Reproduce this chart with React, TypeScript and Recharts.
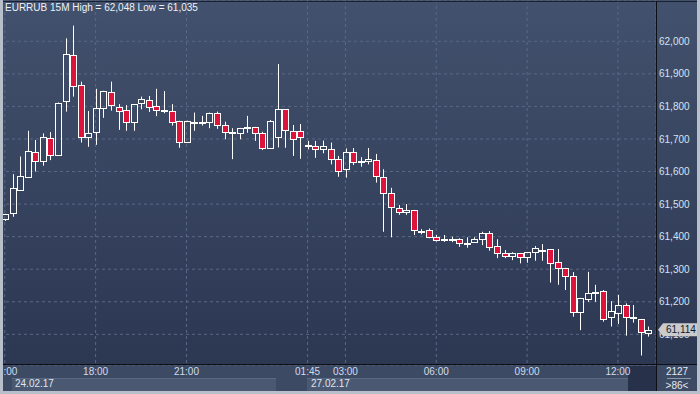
import React from "react";
import {
  ComposedChart,
  Bar,
  XAxis,
  YAxis,
  CartesianGrid,
} from "recharts";

// EURRUB 15M candles, 24.02.17 15:00 .. 27.02.17 12:30
const OPEN = [
  61.453, 61.472, 61.543, 61.584, 61.659, 61.631, 61.702, 61.65, 61.816, 61.957,
  61.865, 61.705, 61.72, 61.794, 61.843, 61.799, 61.789, 61.753, 61.81, 61.819,
  61.8, 61.787, 61.785, 61.754, 61.69, 61.75, 61.75, 61.751, 61.779, 61.742,
  61.721, 61.717, 61.735, 61.736, 61.717, 61.673, 61.705, 61.791, 61.724, 61.724,
  61.68, 61.678, 61.668, 61.668, 61.638, 61.607, 61.659, 61.63, 61.631, 61.635,
  61.584, 61.535, 61.489, 61.476, 61.481, 61.415, 61.42, 61.4, 61.393, 61.392,
  61.392, 61.381, 61.385, 61.392, 61.41, 61.37, 61.349, 61.341, 61.349, 61.337,
  61.352, 61.358, 61.361, 61.321, 61.303, 61.278, 61.17, 61.208, 61.226, 61.233,
  61.152, 61.167, 61.189, 61.152, 61.146, 61.103,
];
const HIGH = [
  61.47, 61.592, 61.646, 61.725, 61.697, 61.717, 61.721, 61.812, 62.009, 62.048,
  61.876, 61.786, 61.854, 61.848, 61.876, 61.807, 61.804, 61.807, 61.83, 61.832,
  61.854, 61.847, 61.807, 61.756, 61.756, 61.781, 61.771, 61.781, 61.784, 61.753,
  61.733, 61.734, 61.771, 61.737, 61.722, 61.758, 61.93, 61.792, 61.743, 61.746,
  61.694, 61.694, 61.695, 61.689, 61.648, 61.671, 61.672, 61.644, 61.672, 61.654,
  61.607, 61.55, 61.497, 61.5, 61.482, 61.423, 61.425, 61.405, 61.405, 61.4,
  61.395, 61.398, 61.398, 61.415, 61.417, 61.392, 61.359, 61.352, 61.35, 61.353,
  61.371, 61.377, 61.362, 61.362, 61.304, 61.291, 61.212, 61.292, 61.252, 61.236,
  61.202, 61.221, 61.195, 61.19, 61.147, 61.124,
];
const LOW = [
  61.448, 61.461, 61.541, 61.582, 61.6, 61.618, 61.635, 61.648, 61.784, 61.83,
  61.689, 61.676, 61.682, 61.765, 61.787, 61.728, 61.725, 61.725, 61.791, 61.783,
  61.77, 61.779, 61.741, 61.673, 61.688, 61.725, 61.741, 61.733, 61.731, 61.699,
  61.638, 61.699, 61.719, 61.694, 61.666, 61.671, 61.674, 61.673, 61.648, 61.639,
  61.668, 61.642, 61.656, 61.622, 61.584, 61.581, 61.62, 61.615, 61.622, 61.566,
  61.415, 61.398, 61.467, 61.467, 61.405, 61.407, 61.395, 61.385, 61.384, 61.383,
  61.369, 61.366, 61.382, 61.374, 61.357, 61.334, 61.334, 61.328, 61.318, 61.32,
  61.326, 61.326, 61.259, 61.252, 61.236, 61.154, 61.113, 61.2, 61.2, 61.139,
  61.124, 61.132, 61.096, 61.136, 61.035, 61.093,
];
const CLOSE = [
  61.469, 61.549, 61.586, 61.662, 61.631, 61.705, 61.65, 61.81, 61.96, 61.864,
  61.705, 61.717, 61.794, 61.846, 61.803, 61.787, 61.753, 61.807, 61.822, 61.797,
  61.788, 61.79, 61.751, 61.69, 61.754, 61.752, 61.753, 61.779, 61.742, 61.72,
  61.717, 61.733, 61.736, 61.717, 61.673, 61.755, 61.791, 61.727, 61.699, 61.705,
  61.679, 61.668, 61.678, 61.638, 61.603, 61.659, 61.628, 61.632, 61.638, 61.586,
  61.533, 61.49, 61.475, 61.482, 61.42, 61.416, 61.398, 61.39, 61.393, 61.392,
  61.38, 61.382, 61.392, 61.41, 61.367, 61.349, 61.341, 61.349, 61.337, 61.352,
  61.364, 61.359, 61.318, 61.303, 61.278, 61.17, 61.211, 61.226, 61.231, 61.148,
  61.172, 61.189, 61.152, 61.152, 61.106, 61.114,
];

const TIME_TICKS = [0, 12, 24, 40, 45, 57, 69, 81];
const TIME_LABELS = ["15:00", "18:00", "21:00", "01:45", "03:00", "06:00", "09:00", "12:00"];
const PRICE_TICKS = [61.1, 61.2, 61.3, 61.4, 61.5, 61.6, 61.7, 61.8, 61.9, 62.0];
const PRICE_DOMAIN = [61.0058, 62.1268];
const LAST = CLOSE[CLOSE.length - 1];

const data = OPEN.map((o, i) => ({ i, o, h: HIGH[i], l: LOW[i], c: CLOSE[i] }));

const fmt = (v: number) => v.toFixed(3).replace(".", ",");
const FONT = "'Liberation Sans', Arial, sans-serif";

function Candle(props: any) {
  const { x, y, width, height, payload } = props;
  if (!payload) return null;
  const { o, h, l, c } = payload;
  const top = Math.min(y, y + height);
  const span = Math.abs(height);
  const ppu = h - l > 0 ? span / (h - l) : 0;
  const cx = Math.round(x + width / 2) + 0.5;
  const yO = top + (h - o) * ppu;
  const yC = top + (h - c) * ppu;
  const bTop = Math.round(Math.min(yO, yC)) + 0.5;
  const bBot = Math.max(Math.round(Math.max(yO, yC)) + 0.5, bTop + 1);
  const up = c >= o;
  return (
    <g>
      <line x1={cx} x2={cx} y1={top} y2={bTop} stroke="#fff" />
      <line x1={cx} x2={cx} y1={bBot} y2={top + span} stroke="#fff" />
      <rect
        x={cx - 3}
        y={bTop}
        width={6}
        height={bBot - bTop}
        fill={up ? "none" : "#dc143c"}
        stroke="#fff"
        strokeWidth={1}
      />
    </g>
  );
}

// last price marker, drawn as the single tick of an extra axis so it sits on top
function PriceTag(props: any) {
  const ym = props.y;
  if (ym == null || isNaN(ym)) return null;
  const tx = 658;
  return (
    <g>
      <path
        d={`M${tx},${ym} L${tx + 5},${ym - 6.5} L697,${ym - 6.5} L697,${ym + 6.5} L${tx + 5},${ym + 6.5} Z`}
        fill="#cbcbcb"
      />
      <text x={tx + 8} y={ym + 3.5} fontSize={10} fill="#0e1a2e" fontFamily={FONT}>
        {fmt(props.payload?.value ?? LAST)}
      </text>
    </g>
  );
}

const abs = (s: React.CSSProperties): React.CSSProperties => ({ position: "absolute", ...s });

export default function App() {
  return (
    <div
      style={{
        position: "fixed",
        left: 0,
        top: 0,
        width: 700,
        height: 394,
        overflow: "hidden",
        fontFamily: FONT,
        background: "#b7bfcb",
      }}
    >
      {/* backgrounds */}
      <div style={abs({ left: 0, top: 0, width: 697, height: 365, background: "linear-gradient(#42516d, #2c3752)" })} />
      <div style={abs({ left: 0, top: 365, width: 697, height: 26, background: "#3d4a64" })} />
      <div style={abs({ left: 12, top: 378, width: 264, height: 12, background: "#4b5871", borderTop: "1px solid #5d6982" })} />
      <div style={abs({ left: 307, top: 378, width: 321, height: 12, background: "#4b5871", borderTop: "1px solid #5d6982" })} />
      <div style={abs({ left: 628, top: 366, width: 28, height: 25, background: "#27314a" })} />

      <div style={abs({ left: 0, top: 0 })}>
        <ComposedChart
          width={700}
          height={394}
          data={data}
          margin={{ top: 0, right: 0, bottom: 3, left: 0 }}
          barCategoryGap={0}
        >
          <CartesianGrid yAxisId="p" stroke="#5a6886" strokeDasharray="3 3" />
          <XAxis
            dataKey="i"
            type="category"
            ticks={TIME_TICKS}
            interval={0}
            height={26}
            padding={{ left: 1, right: 4 }}
            axisLine={false}
            tickLine={false}
            tickSize={0}
            tickMargin={3}
            tick={{ fill: "#d0dcec", fontSize: 10, fontFamily: FONT }}
            tickFormatter={(v: number) => TIME_LABELS[TIME_TICKS.indexOf(v)] ?? ""}
          />
          <YAxis
            yAxisId="p"
            orientation="right"
            width={43}
            type="number"
            domain={PRICE_DOMAIN}
            allowDataOverflow
            ticks={PRICE_TICKS}
            axisLine={false}
            tickLine={false}
            tickSize={0}
            tickMargin={3}
            tick={{ fill: "#d6e2f2", fontSize: 10, fontFamily: FONT, textAnchor: "start" }}
            tickFormatter={fmt}
          />
          <YAxis
            yAxisId="tag"
            orientation="right"
            width={1}
            type="number"
            domain={PRICE_DOMAIN}
            allowDataOverflow
            ticks={[LAST]}
            interval={0}
            axisLine={false}
            tickLine={false}
            tick={(p: any) => <PriceTag {...p} />}
          />
          <Bar
            yAxisId="p"
            dataKey={(d: any) => [d.l, d.h]}
            shape={<Candle />}
            isAnimationActive={false}
          />
        </ComposedChart>
      </div>

      {/* frame lines */}
      <div style={abs({ left: 0, top: 0, width: 3, height: 394, background: "#b7bfcb" })} />
      <div style={abs({ left: 0, top: 391, width: 700, height: 3, background: "#b7bfcb" })} />
      <div style={abs({ left: 697, top: 0, width: 3, height: 394, background: "#b7bfcb" })} />
      <div style={abs({ left: 3, top: 1, width: 694, height: 1, background: "#1a2130" })} />
      <div style={abs({ left: 3, top: 364, width: 694, height: 1, background: "#0d0f14" })} />
      <div style={abs({ left: 656, top: 1, width: 1, height: 390, background: "#0d0f14" })} />

      {/* texts */}
      <div style={abs({ left: 5, top: 2, fontSize: 10, color: "#eef2f8", whiteSpace: "pre" })}>
        {`EURRUB 15M High = ${fmt(Math.max(...HIGH))} Low = ${fmt(Math.min(...LOW))}`}
      </div>
      <div style={abs({ left: 15, top: 378, fontSize: 10, color: "#dfe6f0" })}>24.02.17</div>
      <div style={abs({ left: 311, top: 378, fontSize: 10, color: "#dfe6f0" })}>27.02.17</div>
      <div style={abs({ left: 657, top: 366, width: 40, textAlign: "center", fontSize: 10, color: "#e4eaf2" })}>2127</div>
      <div style={abs({ left: 667, top: 378, width: 24, height: 1, background: "#8d99ad" })} />
      <div style={abs({ left: 657, top: 380, width: 40, textAlign: "center", fontSize: 10, color: "#e4eaf2" })}>
        {">86<"}
      </div>
    </div>
  );
}
